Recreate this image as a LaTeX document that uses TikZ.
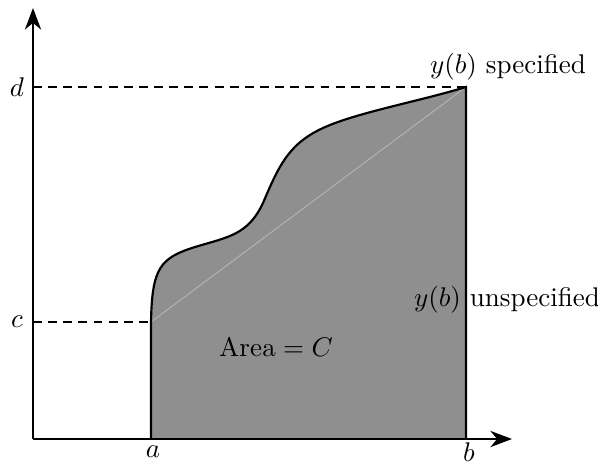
\documentclass[tikz,border=0pt]{standalone}
\usetikzlibrary{arrows.meta}
\begin{document}
\begin{tikzpicture}[x=0.37pt,y=0.37pt,
  axis/.style={line width=0.8pt,-{Stealth[length=8pt,width=6pt,inset=2.5pt]}},
  guide/.style={line width=0.4pt,dash pattern=on 3.3pt off 2.3pt},
  bound/.style={line width=0.8pt},
  lbl/.style={inner sep=0pt}]
\useasboundingbox (0,0) rectangle (598,463);
\coordinate (O) at (33,24);
\coordinate (Yt) at (33,455);
\coordinate (Xt) at (512,24);
\coordinate (A) at (151,24);
\coordinate (B) at (466,24);
\coordinate (Ac) at (151,141);
\coordinate (Bd) at (466,376);
\coordinate (Cy) at (33,141);
\coordinate (Dy) at (33,376);
% shaded area
\fill[fill={rgb,255:red,143;green,143;blue,143}] (A) -- (Ac)
  .. controls (152,195) and (160,205) .. (195,216)
  .. controls (228,226) and (248,228) .. (263,260)
  .. controls (280,300) and (290,322) .. (330,338)
  .. controls (365,352) and (420,362) .. (Bd) -- (B) -- cycle;
\draw[line width=0.3pt,color={rgb,255:red,185;green,185;blue,185}] (Ac) -- (Bd);
\draw[bound] (A) -- (Ac)
  .. controls (152,195) and (160,205) .. (195,216)
  .. controls (228,226) and (248,228) .. (263,260)
  .. controls (280,300) and (290,322) .. (330,338)
  .. controls (365,352) and (420,362) .. (Bd) -- (B);
% guides
\draw[guide] (Cy) -- (Ac);
\draw[guide] (Dy) -- (Bd);
% axes
\draw[axis] (O) -- (Yt);
\draw[axis] (O) -- (Xt);
% labels
\node[lbl] (lc) at (17,141) {$c$};
\node[lbl] (ld) at (17,376) {$d$};
\node[lbl] (la) at (153,11) {$a$};
\node[lbl] (lb) at (469,11) {$b$};
\node[lbl] (lspec) at (508,396) {$y(b)$ specified};
\node[lbl] (lunspec) at (507,163) {$y(b)$ unspecified};
\node[lbl] (larea) at (276,116) {$\mathrm{Area}=C$};
\end{tikzpicture}
\end{document}
